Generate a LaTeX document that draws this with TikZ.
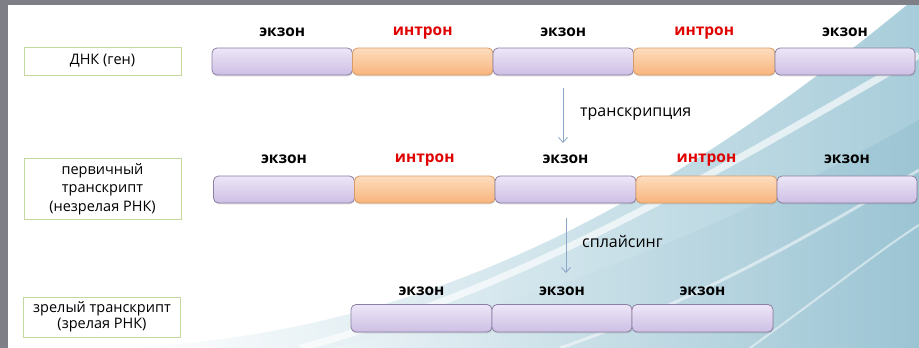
\documentclass[tikz,border=0pt]{standalone}
\usepackage{fontspec}
\setmainfont{Open Sans}
\usetikzlibrary{shadows,arrows.meta}
\definecolor{framegray}{HTML}{7E7E86}
\definecolor{exontop}{HTML}{EDE6F7}
\definecolor{exonbot}{HTML}{CDBFE4}
\definecolor{exonedge}{HTML}{8C7FA4}
\definecolor{inttop}{HTML}{FDDDBE}
\definecolor{intbot}{HTML}{F8B47C}
\definecolor{intedge}{HTML}{D89A66}
\definecolor{lblgreen}{HTML}{C4D79E}
\definecolor{arrblue}{HTML}{8AA6C8}
\definecolor{bgA}{HTML}{EEF5F8}
\definecolor{bgB}{HTML}{A8CDDA}
\definecolor{bgC}{HTML}{96C1D1}
\definecolor{intred}{HTML}{E00000}
\tikzset{
  seg/.style={rounded corners=5pt, line width=0.8pt, inner sep=0pt,
    drop shadow={opacity=0.25, shadow xshift=0.6pt, shadow yshift=-1.4pt}},
  exon/.style={seg, draw=exonedge, top color=exontop, bottom color=exonbot},
  intron/.style={seg, draw=intedge, top color=inttop, bottom color=intbot},
  seglabel/.style={font=\bfseries\fontsize{15.5}{17}\selectfont, inner sep=0pt},
  lblbox/.style={draw=lblgreen, fill=white, line width=1pt, align=center,
    inner sep=0pt, minimum width=157pt,
    drop shadow={opacity=0.15, shadow xshift=0.8pt, shadow yshift=-0.8pt}},
  steparrow/.style={draw=arrblue, line width=0.8pt, -{Straight Barb[length=5pt,width=9pt]}},
  steptext/.style={font=\fontsize{16}{18}\selectfont, inner sep=0pt, anchor=west}
}
% \segbox{name}{style}{x1}{x2}{y1}{y2}
\newcommand{\segbox}[6]{%
  \node[#2, minimum width={#4-#3}, minimum height={#6-#5}] (#1) at ({(#3+#4)/2},{(#5+#6)/2}) {};}
\begin{document}
\begin{tikzpicture}[x=1pt,y=-1pt]
\useasboundingbox (0,0) rectangle (919,348);
% background
\fill[white] (0,0) rectangle (919,348);
\shade[left color=white, right color=bgB] (120,348) .. controls (420,335) and (660,210) .. (919,-5) -- (919,348) -- cycle;
\shade[left color=bgA, right color=bgC, opacity=0.7] (330,348) .. controls (560,300) and (760,210) .. (919,120) -- (919,348) -- cycle;
\draw[white, line width=7pt, opacity=0.65] (300,348) .. controls (520,290) and (720,170) .. (919,55);
\draw[white, line width=3pt, opacity=0.5] (560,348) .. controls (700,300) and (820,230) .. (919,170);
\draw[white, line width=2pt, opacity=0.5] (750,348) .. controls (830,290) and (880,250) .. (919,225);
% frame
\fill[framegray] (0,0) rectangle (919,5);
\fill[framegray] (0,0) rectangle (8,348);

% row 1
\node[lblbox, minimum height=28pt, font=\fontsize{14.5}{18}\selectfont] (l1) at (102.5,61) {ДНК (ген)};
\segbox{a1}{exon}{212}{352.5}{48}{75}
\segbox{a2}{intron}{352.5}{493}{48}{75}
\segbox{a3}{exon}{493}{633.5}{48}{75}
\segbox{a4}{intron}{633.5}{775}{48}{75}
\segbox{a5}{exon}{775}{915}{48}{75}
\foreach \n/\t/\c in {a1/экзон/black, a2/интрон/intred, a3/экзон/black, a4/интрон/intred, a5/экзон/black}
  \node[seglabel, text=\c] at ([yshift=15pt]\n.north) {\t};

% row 2
\node[lblbox, minimum height=61pt, font=\fontsize{14.5}{18.5}\selectfont] (l2) at (102.5,189) {первичный\\транскрипт\\(незрелая РНК)};
\segbox{b1}{exon}{213.5}{354.5}{176}{203}
\segbox{b2}{intron}{354.5}{495}{176}{203}
\segbox{b3}{exon}{495}{636}{176}{203}
\segbox{b4}{intron}{636}{777}{176}{203}
\segbox{b5}{exon}{777}{917}{176}{203}
\foreach \n/\t/\c in {b1/экзон/black, b2/интрон/intred, b3/экзон/black, b4/интрон/intred, b5/экзон/black}
  \node[seglabel, text=\c] at ([yshift=16pt]\n.north) {\t};

% row 3
\node[lblbox, minimum height=40pt, font=\fontsize{14.5}{16}\selectfont] (l3) at (102,317) {зрелый транскрипт\\(зрелая РНК)};
\segbox{c1}{exon}{351}{492}{304.5}{332}
\segbox{c2}{exon}{492}{632}{304.5}{332}
\segbox{c3}{exon}{632}{773}{304.5}{332}
\foreach \n in {c1,c2,c3}
  \node[seglabel] at ([yshift=13pt]\n.north) {экзон};

% arrows
\coordinate (t1s) at (563,88);
\coordinate (t1e) at (563,143);
\draw[steparrow] (t1s) -- (t1e);
\node[steptext] (tt1) at (580,114) {транскрипция};
\coordinate (t2s) at (566,218);
\coordinate (t2e) at (566,273);
\draw[steparrow] (t2s) -- (t2e);
\node[steptext] (tt2) at (582,242) {сплайсинг};
\end{tikzpicture}
\end{document}
